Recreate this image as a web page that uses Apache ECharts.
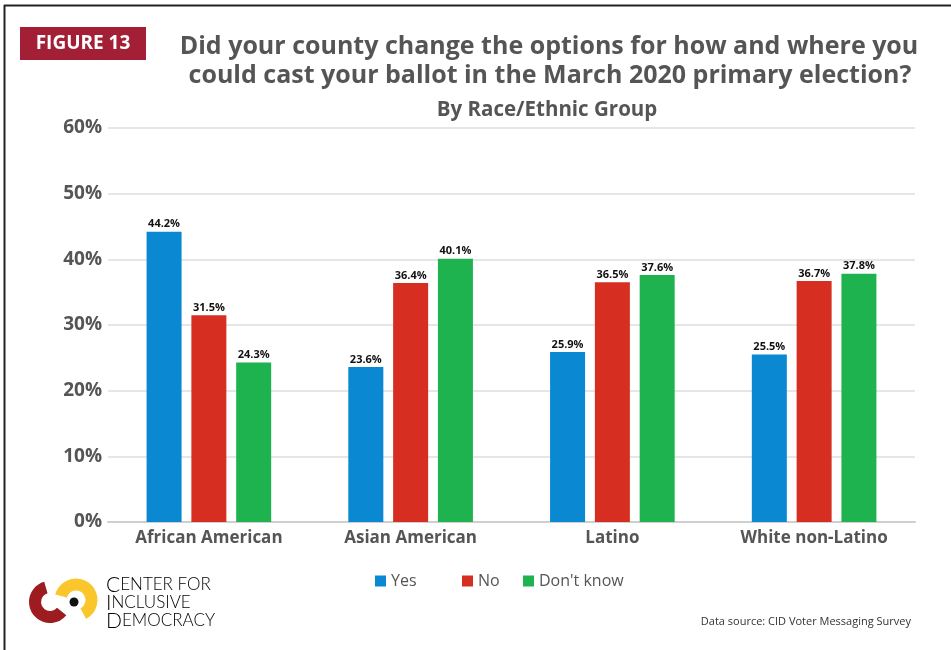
<!DOCTYPE html>
<html>
<head>
<meta charset="utf-8">
<script src="https://cdn.jsdelivr.net/npm/echarts@6/dist/echarts.min.js"></script>
<style>html,body{margin:0;padding:0;background:#fff}#chart{width:951px;height:650px}</style>
</head>
<body>
<div id="chart"></div>
<script>
var categories = ['African American', 'Asian American', 'Latino', 'White non-Latino'];
var yesValues = [44.2, 23.6, 25.9, 25.5];
var noValues = [31.5, 36.4, 36.5, 36.7];
var dontKnowValues = [24.3, 40.1, 37.6, 37.8];
var seriesNames = ['Yes', 'No', "Don't know"];
var yTicks = [0, 10, 20, 30, 40, 50, 60];

var colors = ['#0a88d2', '#d72e22', '#1fb34f'];
var chart = echarts.init(document.getElementById('chart'));
var labelStyle = {show: true, position: 'top', distance: 2, color: '#111', fontWeight: 'bold', fontSize: 11, fontFamily: 'Open Sans', formatter: function(p){return p.value.toFixed(1) + '%';}};
function mkSeries(name, data, color){
  return {name: name, type: 'bar', data: data, barWidth: 35, barGap: '28%', itemStyle: {color: color}, label: labelStyle};
}
function mkLegend(name, left){
  return {data: [name], left: left, top: 568, itemWidth: 11, itemHeight: 11, icon: 'rect', itemGap: 5,
    textStyle: {color: '#555', fontSize: 16, fontFamily: 'Open Sans', padding: [0,0,0,0]}};
}
var logoRed = '#9c1c20';
function logoLine(first, rest, y){
  return {type: 'text', x: 106, y: y, style: {text: '{a|' + first + '}{b|' + rest + '}',
    rich: {a: {fontSize: 21, fontFamily: 'Lato', fontWeight: 300, color: logoRed},
           b: {fontSize: 17, fontFamily: 'Lato', fontWeight: 300, color: logoRed}}, textVerticalAlign: 'middle'}};
}
chart.setOption({
  animation: false,
  color: colors,
  grid: {left: 108, right: 36, top: 128, bottom: 128, containLabel: false},
  legend: [mkLegend('Yes', 370), mkLegend('No', 457), mkLegend("Don't know", 518)],
  xAxis: {type: 'category', data: categories,
    axisLine: {lineStyle: {color: '#cfcfcf', width: 2}}, axisTick: {show: false},
    axisLabel: {color: '#555', fontWeight: 'bold', fontSize: 17, fontFamily: 'Open Sans', margin: 8}},
  yAxis: {type: 'value', min: yTicks[0], max: yTicks[yTicks.length-1], interval: 10,
    axisLine: {show: false}, axisTick: {show: false},
    splitLine: {lineStyle: {color: '#e6e6e6', width: 2}},
    axisLabel: {color: '#555', fontWeight: 'bold', fontSize: 19, fontFamily: 'Open Sans', margin: 6, formatter: '{value}%'}},
  series: [mkSeries(seriesNames[0], yesValues, colors[0]), mkSeries(seriesNames[1], noValues, colors[1]), mkSeries(seriesNames[2], dontKnowValues, colors[2])],
  graphic: [
    {type: 'line', shape: {x1: 4.5, y1: 5, x2: 4.5, y2: 650}, style: {stroke: '#222', lineWidth: 2}},
    {type: 'line', shape: {x1: 4, y1: 5.5, x2: 951, y2: 5.5}, style: {stroke: '#222', lineWidth: 2}},
    {type: 'rect', shape: {x: 20, y: 27, width: 126, height: 33}, style: {fill: '#a21f35'}},
    {type: 'text', x: 83, y: 44, style: {text: 'FIGURE 13', fill: '#fff', font: 'bold 19px "Open Sans"', textAlign: 'center', textVerticalAlign: 'middle'}},
    {type: 'text', x: 549, y: 47, style: {text: 'Did your county change the options for how and where you', fill: '#555', font: 'bold 25px "Open Sans"', textAlign: 'center', textVerticalAlign: 'middle'}},
    {type: 'text', x: 550, y: 76, style: {text: 'could cast your ballot in the March 2020 primary election?', fill: '#555', font: 'bold 25px "Open Sans"', textAlign: 'center', textVerticalAlign: 'middle'}},
    {type: 'text', x: 547, y: 110, style: {text: 'By Race/Ethnic Group', fill: '#555', font: 'bold 20.5px "Open Sans"', textAlign: 'center', textVerticalAlign: 'middle'}},
    {type: 'text', x: 911, y: 622, style: {text: 'Data source: CID Voter Messaging Survey', fill: '#333', font: '11px "Open Sans"', textAlign: 'right', textVerticalAlign: 'middle'}},
    // logo
    {type: 'arc', shape: {cx: 50, cy: 602, r: 15, startAngle: 39 * Math.PI / 180, endAngle: 254 * Math.PI / 180, clockwise: true}, style: {stroke: logoRed, lineWidth: 12, fill: null}},
    {type: 'arc', shape: {cx: 76, cy: 600, r: 15.5, startAngle: 195 * Math.PI / 180, endAngle: 422 * Math.PI / 180, clockwise: true}, style: {stroke: '#fbc62b', lineWidth: 12, fill: null}},
    {type: 'circle', shape: {cx: 74, cy: 602, r: 4.5}, style: {fill: '#111'}},
    logoLine('C', 'ENTER FOR', 585),
    logoLine('I', 'NCLUSIVE', 603),
    logoLine('D', 'EMOCRACY', 621)
  ]
});
</script>
</body>
</html>
